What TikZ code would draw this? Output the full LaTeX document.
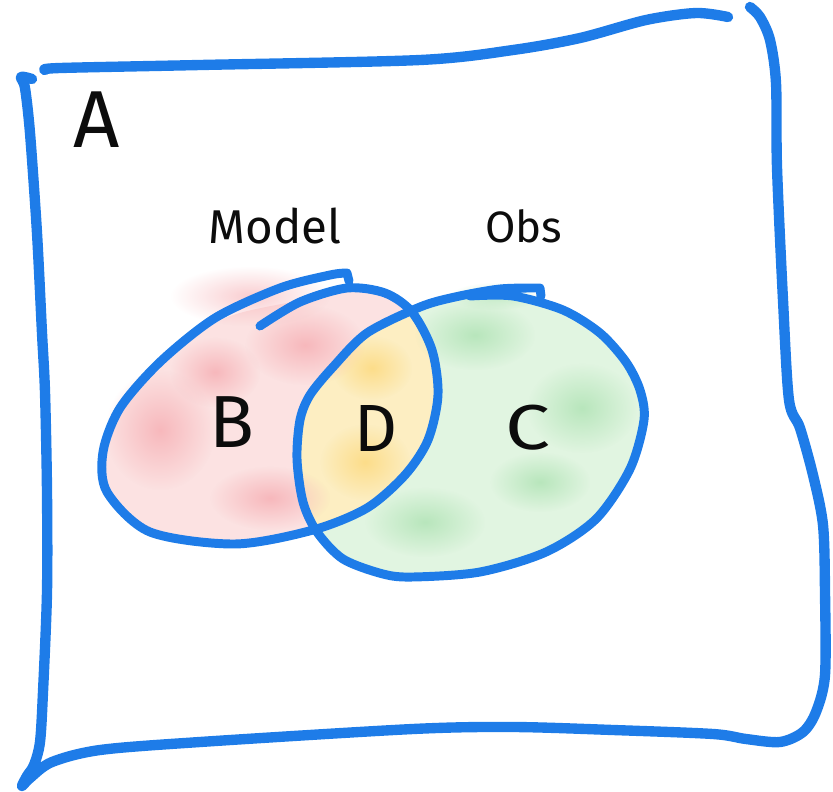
\documentclass[tikz,border=0pt]{standalone}
\usepackage{fontspec}
\setmainfont{Fira Sans}
\usetikzlibrary{fadings}

\definecolor{pen}{RGB}{30,124,232}
\definecolor{ink}{RGB}{12,12,12}
\definecolor{pinkbase}{RGB}{252,226,226}
\definecolor{pinkdeep}{RGB}{247,184,188}
\definecolor{greenbase}{RGB}{225,245,225}
\definecolor{greendeep}{RGB}{184,230,188}
\definecolor{yellowbase}{RGB}{253,238,194}
\definecolor{yellowdeep}{RGB}{252,221,138}

\tikzfading[name=soft blot, inner color=transparent!0, outer color=transparent!100]

\tikzset{
  frame/.style={draw=pen, line width=5.9pt, line cap=round, line join=round},
  ring/.style={draw=pen, line width=5.1pt, line cap=round, line join=round},
  hand/.style={text=ink, inner sep=0pt, anchor=center},
  blot/.style={fill=#1, path fading=soft blot},
}

% outlines of the two sets, used for the washes
\newcommand\modelshape{plot[smooth cycle] coordinates {
  (300,300) (347,286) (385,292) (412,312) (432,350) (438,395) (428,440)
  (405,475) (367,508) (313,530) (235,544) (150,532) (107,492) (103,452)
  (120,410) (165,360) (225,318)}}
\newcommand\obsshape{plot[smooth cycle] coordinates {
  (420,307) (463,297) (513,295) (563,310) (600,333) (626,362) (640,390)
  (644,420) (630,469) (596,519) (546,552) (480,572) (413,577) (383,574)
  (343,559) (317,532) (303,502) (297,459) (300,420) (310,395) (333,367)
  (367,333)}}

\begin{document}
\begin{tikzpicture}[x=0.02cm, y=-0.02cm]
\useasboundingbox (0,0) rectangle (833,792);

% --- washes -------------------------------------------------------------
\fill[pinkbase] \modelshape;
\fill[greenbase] \obsshape;
\begin{scope}
  \clip \modelshape;
  \fill[yellowbase] \obsshape;
\end{scope}

% pink patches (a little haze spills over the top edge)
\fill[blot=pinkdeep, opacity=0.7] (250,296) ellipse (80 and 30);
\fill[blot=pinkdeep] (305,345) ellipse (60 and 40);
\fill[blot=pinkdeep] (160,430) ellipse (55 and 60);
\fill[blot=pinkdeep] (270,498) ellipse (60 and 32);
\fill[blot=pinkdeep] (215,372) ellipse (45 and 35);

% green patches
\begin{scope}
  \clip (0,280) rectangle (660,600);
  \fill[blot=greendeep] (475,335) ellipse (60 and 35);
  \fill[blot=greendeep] (582,408) ellipse (55 and 45);
  \fill[blot=greendeep] (425,522) ellipse (60 and 35);
  \fill[blot=greendeep] (540,482) ellipse (50 and 30);
  \fill[blot=greendeep, opacity=0.7] (495,296) ellipse (45 and 14);
\end{scope}

% yellow patches in the overlap
\begin{scope}
  \clip \modelshape;
  \clip \obsshape;
  \fill[blot=yellowdeep] (365,462) ellipse (45 and 38);
  \fill[blot=yellowdeep] (372,368) ellipse (40 and 32);
\end{scope}

% --- outer frame --------------------------------------------------------
\draw[frame] plot[smooth] coordinates {
  (45,70) (60,68) (200,65) (420,60) (513,50) (580,38) (646,20) (696,13) (728,17)};
\draw[frame] plot[smooth] coordinates {
  (750,7) (760,17) (770,40) (776,83) (777,167) (783,300) (789,400) (800,428)
  (813,475) (823,525) (825,592) (825,675) (816,712) (803,732) (780,742)
  (746,739) (713,734) (613,730) (513,727) (413,729) (200,742) (100,750)
  (52,762) (30,778) (22,786) (27,776) (34,765) (40,742) (43,692) (47,592)
  (47,492) (45,392) (42,333) (37,233) (30,133) (25,88) (21,77) (32,79)};

% --- set outlines -------------------------------------------------------
\draw[ring] plot[smooth] coordinates {
  (260,326) (300,302) (347,288) (385,293) (412,312) (432,350) (438,395)
  (428,440) (405,475) (367,508) (313,530) (235,544) (150,532) (107,492)
  (103,452) (120,408) (160,362) (215,318) (280,288) (330,275) (347,273)}
  -- (349,281);
\draw[ring] (541,296) -- plot[smooth] coordinates {
  (540,288) (500,289) (455,297) (420,307) (367,333) (333,367) (310,395)
  (300,420) (297,459) (303,502) (317,532) (343,559) (383,574) (413,577)
  (480,572) (546,552) (596,519) (630,469) (644,420) (640,390) (626,362)
  (600,333) (563,310) (513,296) (470,296)};

% --- labels -------------------------------------------------------------
\node[hand, font=\fontsize{46}{46}\selectfont] (A) at (97,120) {A};
\node[hand, font=\fontsize{27}{27}\selectfont] (model) at (275,226) {Model};
\node[hand, font=\fontsize{25}{25}\selectfont] (obs) at (524,226) {Obs};
\node[hand, font=\fontsize{42}{42}\selectfont] (B) at (232,422) {B};
\node[hand, font=\fontsize{38}{38}\selectfont] (D) at (376,428) {D};
\node[hand, font=\fontsize{38}{38}\selectfont] (C) at (528,428)
  {\scalebox{1.2}[0.95]{C}};
\end{tikzpicture}
\end{document}
